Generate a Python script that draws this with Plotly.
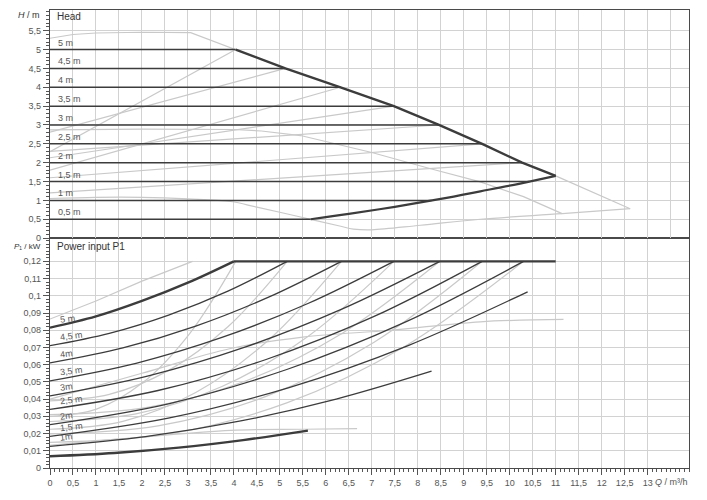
import plotly.graph_objects as go

# ---------------- Head chart (top) ----------------
heads = [5, 4.5, 4, 3.5, 3, 2.5, 2, 1.5, 1, 0.5]
head_labels = ["5 m", "4,5 m", "4 m", "3,5 m", "3 m", "2,5 m", "2 m", "1,5 m", "1 m", "0,5 m"]
head_end_q = [4.04, 5.12, 6.32, 7.48, 8.46, 9.40, 10.27, 10.43, 8.30, 5.67]

# max curve (dark, thick)
max_q = [4.04, 5.12, 6.32, 7.48, 8.46, 9.40, 10.27, 11.0]
max_h = [5.0, 4.5, 4.0, 3.5, 3.0, 2.5, 2.0, 1.65]
# lower limit curve (dark, thick)
low_q = [5.67, 6.5, 7.5, 8.5, 9.36, 10.2, 11.0]
low_h = [0.5, 0.64, 0.83, 1.04, 1.24, 1.44, 1.65]

# light curves
outer_q = [0, 0.5, 1.0, 2.0, 3.06, 4.04, 5.12, 6.32, 7.48, 8.46, 9.40, 10.27, 11.0, 12.62]
outer_h = [5.3, 5.4, 5.44, 5.46, 5.45, 5.0, 4.5, 4.0, 3.5, 3.0, 2.5, 2.0, 1.65, 0.78]
second_q = [0, 2.0, 4.0, 4.6, 5.45, 7.0, 8.28, 9.36, 10.3, 11.14]
second_h = [2.87, 2.89, 2.88, 2.84, 2.72, 2.27, 1.84, 1.49, 1.1, 0.65]
min_q = [0, 1.0, 2.0, 3.0, 3.93, 4.5, 5.45, 6.3, 6.6, 7.0, 8.06, 9.36, 11.14, 12.62]
min_h = [1.05, 1.08, 1.08, 1.04, 0.97, 0.82, 0.56, 0.32, 0.24, 0.22, 0.34, 0.5, 0.65, 0.78]

# light variable-pressure lines: start head at Q=0 -> end point on max curve
dpv_start_h = [2.29, 2.81, 1.80, 2.13, 2.30, 1.60, 1.20]
dpv_end_q = [4.04, 5.12, 6.32, 7.48, 8.46, 9.40, 10.27]
dpv_end_h = [5.0, 4.5, 4.0, 3.5, 3.0, 2.5, 2.0]

# ---------------- Power chart (bottom) ----------------
power_labels = ["5 m", "4,5 m", "4m", "3,5 m", "3m", "2,5 m", "2m", "1,5 m", "1m", ""]
power_q = [
    [0, 1, 2, 3, 4.0],
    [0, 1.29, 2.58, 3.87, 5.16],
    [0, 1.585, 3.17, 4.755, 6.34],
    [0, 1.87, 3.74, 5.61, 7.48],
    [0, 2.12, 4.24, 6.36, 8.48],
    [0, 2.35, 4.7, 7.05, 9.4],
    [0, 2.575, 5.15, 7.725, 10.3],
    [0, 2.6, 5.2, 7.79, 10.39],
    [0, 2.075, 4.15, 6.225, 8.3],
    [0, 1.4, 2.8, 4.2, 5.61],
]
power_p = [
    [0.0815, 0.088, 0.097, 0.1076, 0.12],
    [0.071, 0.0782, 0.0888, 0.1027, 0.12],
    [0.061, 0.0697, 0.0824, 0.0992, 0.12],
    [0.0506, 0.0608, 0.0758, 0.0955, 0.12],
    [0.0419, 0.0534, 0.0702, 0.0924, 0.12],
    [0.034, 0.045, 0.063, 0.088, 0.12],
    [0.0252, 0.0373, 0.0572, 0.0847, 0.12],
    [0.0184, 0.0291, 0.0467, 0.0711, 0.1023],
    [0.0126, 0.0182, 0.0273, 0.040, 0.0562],
    [0.0068, 0.0087, 0.0118, 0.0162, 0.0217],
]
cap_q = [4.0, 11.0]
cap_p = [0.12, 0.12]

# light power curves
outer_pq = [0, 1, 2, 3.1]
outer_pp = [0.0865, 0.097, 0.1085, 0.12]
second_pq = [0, 2, 3.93, 5.5, 7.41, 9.36, 11.17]
second_pp = [0.040, 0.055, 0.0694, 0.076, 0.080, 0.0849, 0.0863]
min_pq = [0, 2, 3.93, 5.5, 6.68]
min_pp = [0.0132, 0.018, 0.0219, 0.0225, 0.0229]
dpv_pq = [
    [0, 1.01, 2.02, 3.03, 4.04],
    [0, 1.29, 2.58, 3.87, 5.16],
    [0, 1.585, 3.17, 4.755, 6.34],
    [0, 1.87, 3.74, 5.61, 7.48],
    [0, 2.12, 4.24, 6.36, 8.48],
    [0, 2.35, 4.7, 7.05, 9.4],
    [0, 2.575, 5.15, 7.725, 10.3],
]
dpv_pp = [
    [0.030, 0.0342, 0.0496, 0.0778, 0.12],
    [0.039, 0.0428, 0.0567, 0.082, 0.12],
    [0.0225, 0.0271, 0.0438, 0.0743, 0.12],
    [0.027, 0.0314, 0.0473, 0.0764, 0.12],
    [0.031, 0.0352, 0.0504, 0.0783, 0.12],
    [0.0198, 0.0245, 0.0416, 0.073, 0.12],
    [0.0149, 0.0198, 0.0378, 0.0707, 0.12],
]

# axis ticks
x_ticks = [0, 0.5, 1, 1.5, 2, 2.5, 3, 3.5, 4, 4.5, 5, 5.5, 6, 6.5, 7,
           7.5, 8, 8.5, 9, 9.5, 10, 10.5, 11, 11.5, 12, 12.5, 13]
x_tick_text = ["0", "0,5", "1", "1,5", "2", "2,5", "3", "3,5", "4", "4,5", "5", "5,5",
               "6", "6,5", "7", "7,5", "8", "8,5", "9", "9,5", "10", "10,5", "11",
               "11,5", "12", "12,5", "13"]
h_ticks = [0, 0.5, 1, 1.5, 2, 2.5, 3, 3.5, 4, 4.5, 5, 5.5]
h_tick_text = ["0", "0,5", "1", "1,5", "2", "2,5", "3", "3,5", "4", "4,5", "5", "5,5"]
p_ticks = [0, 0.01, 0.02, 0.03, 0.04, 0.05, 0.06, 0.07, 0.08, 0.09, 0.1, 0.11, 0.12]
p_tick_text = ["0", "0,01", "0,02", "0,03", "0,04", "0,05", "0,06", "0,07", "0,08",
               "0,09", "0,1", "0,11", "0,12"]

DARK = "#3c3c3c"
LIGHT = "#c9c9c9"
GRID = "#d2d2d2"
TXT = "#555555"
FONT = "Liberation Sans, Arial, sans-serif"

fig = go.Figure()


def line(x, y, color, width, axes, shape="linear"):
    fig.add_trace(go.Scatter(x=x, y=y, mode="lines", hoverinfo="skip",
                             line=dict(color=color, width=width, shape=shape),
                             xaxis=axes[0], yaxis=axes[1]))


top = ("x2", "y")
bot = ("x", "y2")

# top: light curves first
line(outer_q, outer_h, LIGHT, 1.2, top)
line(second_q, second_h, LIGHT, 1.2, top)
line(min_q, min_h, LIGHT, 1.2, top, "spline")
for s, qe, he in zip(dpv_start_h, dpv_end_q, dpv_end_h):
    line([0, qe], [s, he], LIGHT, 1.2, top)
# top: dark constant head lines and limits
for h, qe in zip(heads, head_end_q):
    line([0, qe], [h, h], DARK, 1.5, top)
line(max_q, max_h, DARK, 2.4, top)
line(low_q, low_h, DARK, 2.2, top, "spline")

# bottom: light curves
line(outer_pq, outer_pp, LIGHT, 1.2, bot)
line(second_pq, second_pp, LIGHT, 1.2, bot, "spline")
line(min_pq, min_pp, LIGHT, 1.2, bot, "spline")
for qs, ps in zip(dpv_pq, dpv_pp):
    line(qs, ps, LIGHT, 1.2, bot, "spline")
# bottom: dark curves
for i, (qs, ps) in enumerate(zip(power_q, power_p)):
    w = 2.4 if i in (0, len(power_q) - 1) else 1.3
    line(qs, ps, DARK, w, bot, "spline")
line(cap_q, cap_p, DARK, 2.4, bot)

ann = []
for h, lab in zip(heads, head_labels):
    ann.append(dict(x=0.12, y=h, xref="x2", yref="y", text=lab, showarrow=False,
                    xanchor="left", yanchor="bottom", yshift=0,
                    font=dict(size=9, color=TXT)))
for ps, lab in zip(power_p, power_labels):
    if lab:
        ann.append(dict(x=0.15, y=ps[0], xref="x", yref="y2", text=lab, showarrow=False,
                        xanchor="left", yanchor="bottom", yshift=1, textangle=-7,
                        font=dict(size=9, color=TXT)))
ann += [
    dict(x=0.008, y=0.985, xref="paper", yref="paper", text="Head", showarrow=False,
         xanchor="left", yanchor="middle", font=dict(size=10, color="#333")),
    dict(x=0.008, y=0.4835, xref="paper", yref="paper", text="Power input P1",
         showarrow=False, xanchor="left", yanchor="middle", font=dict(size=10, color="#333")),
    dict(x=-0.012, y=0.988, xref="paper", yref="paper", text="<i>H</i> / m", showarrow=False,
         xanchor="right", yanchor="middle", font=dict(size=9, color="#333")),
    dict(x=-0.011, y=0.4835, xref="paper", yref="paper", text="<i>P</i>₁ / kW",
         showarrow=False, xanchor="right", yanchor="middle", font=dict(size=8, color="#333")),
    dict(x=13.52, y=0, xref="x", yref="paper", text="<i>Q</i> / m³/h", showarrow=False,
         xanchor="center", yanchor="top", yshift=-7, font=dict(size=9, color=TXT)),
]

axis_common = dict(showline=True, linecolor="#4a4a4a", linewidth=1.2, mirror=True,
                   gridcolor=GRID, gridwidth=1, zeroline=False, automargin=False,
                   tickfont=dict(size=9, color=TXT, family=FONT))

# the page body adds an 8 px margin, so the figure is shrunk and shifted to compensate
fig.update_layout(
    width=699, height=492,
    margin=dict(l=42, r=18, t=2, b=32),
    paper_bgcolor="white", plot_bgcolor="white",
    showlegend=False,
    font=dict(family=FONT, color=TXT),
    annotations=ann,
    xaxis=dict(domain=[0, 1], range=[0, 13.9], anchor="y2",
               tickmode="array", tickvals=x_ticks, ticktext=x_tick_text,
               ticks="outside", ticklen=6, tickcolor="#555",
               minor=dict(tickmode="linear", tick0=0, dtick=0.1, ticklen=3,
                          ticks="outside", tickcolor="#555", showgrid=False),
               **axis_common),
    xaxis2=dict(domain=[0, 1], range=[0, 13.9], anchor="y", matches="x",
                tickmode="linear", tick0=0, dtick=0.5, showticklabels=False, ticks="",
                **axis_common),
    yaxis=dict(domain=[0.502, 1], range=[0, 6.05], anchor="x2",
               tickmode="array", tickvals=h_ticks, ticktext=h_tick_text,
               ticks="outside", ticklen=6, tickcolor="#555",
               minor=dict(tickmode="linear", tick0=0, dtick=0.1, ticklen=3,
                          ticks="outside", tickcolor="#555", showgrid=False),
               **axis_common),
    yaxis2=dict(domain=[0, 0.502], range=[0, 0.1335], anchor="x",
                tickmode="array", tickvals=p_ticks, ticktext=p_tick_text,
                ticks="outside", ticklen=6, tickcolor="#555",
                minor=dict(tickmode="linear", tick0=0, dtick=0.002, ticklen=3,
                           ticks="outside", tickcolor="#555", showgrid=False),
                **axis_common),
)

fig.write_html("out.html")
